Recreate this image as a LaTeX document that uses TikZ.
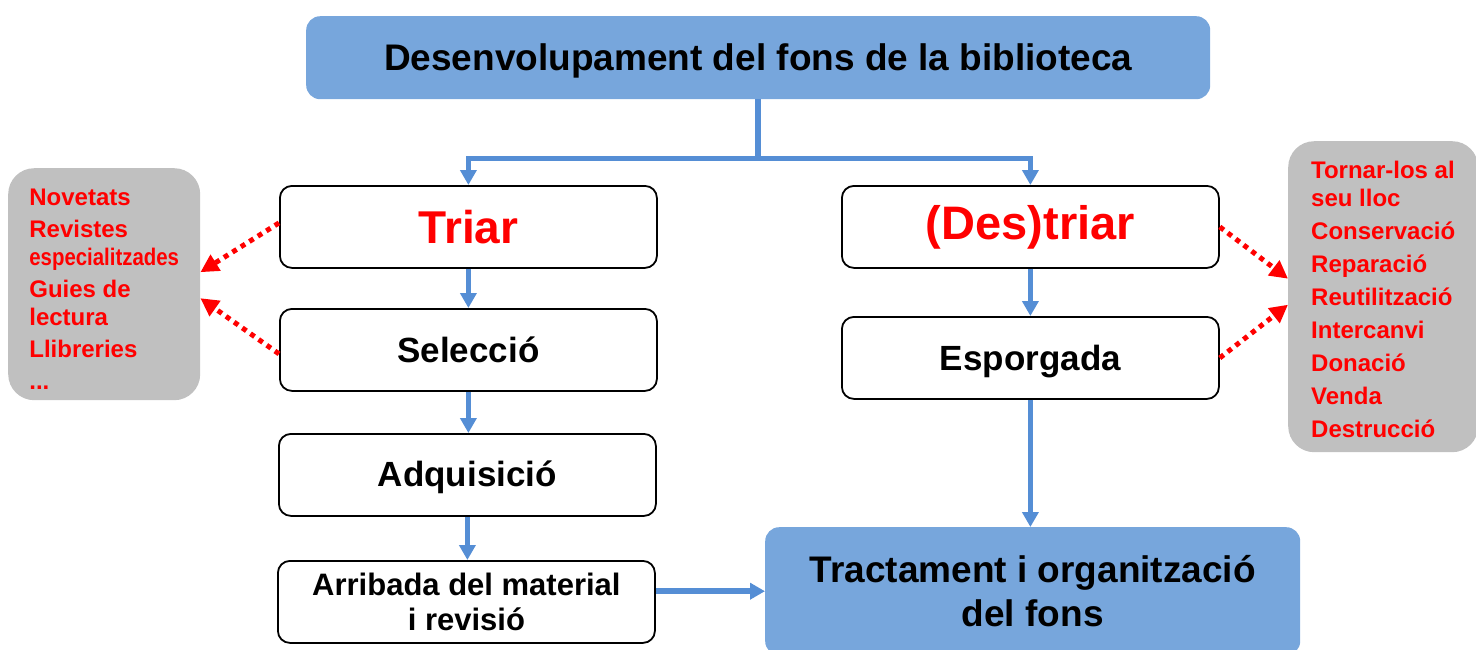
\documentclass[tikz,border=0pt]{standalone}
\usepackage{fontspec}
\setmainfont{Liberation Sans}
\usepackage{graphicx}
\usetikzlibrary{arrows.meta}
\definecolor{boxblue}{RGB}{119,166,220}
\definecolor{lineblue}{RGB}{85,142,213}
\definecolor{panelgray}{RGB}{192,192,192}

\begin{document}
\begin{tikzpicture}[x=1pt,y=-1pt,
    stepbox/.style={draw=black,line width=1.8pt,rounded corners=12pt,fill=white,anchor=north west,inner sep=0,minimum width=377pt,minimum height=82pt,font=\fontsize{35}{40}\selectfont\bfseries,align=center},
    bluebox/.style={fill=boxblue,rounded corners=14pt,anchor=north west,inner sep=0,align=center},
    graybox/.style={fill=panelgray,rounded corners=26pt,anchor=north west,inner sep=0,align=left,text=red,font=\fontsize{24}{28}\selectfont\bfseries},
    flow/.style={draw=lineblue,line width=5.5pt,-{Triangle[width=16pt,length=15pt]}},
    hint/.style={draw=red,line width=5pt,dash pattern=on 5pt off 5pt,-{Triangle[width=18pt,length=18pt]}}]
        \useasboundingbox (0,0) rectangle (1476,649);
        \node[bluebox,minimum width=904pt,minimum height=83pt,font=\fontsize{37}{42}\selectfont\bfseries,text depth=2pt] (title) at (306,16) {Desenvolupament del fons de la biblioteca};
        % left column
        \node[stepbox,font=\fontsize{46}{50}\selectfont\bfseries,text=red] (triar) at (279,185) {Triar};
        \node[stepbox] (seleccio) at (279,308) {Selecció};
        \node[stepbox,text depth=2pt] (adquisicio) at (278,433) {Adquisició};
        \node[stepbox,font=\fontsize{31}{35}\selectfont\bfseries] (arribada) at (277,560) {Arribada del material\\i revisió};
        % right column
        \node[stepbox,font=\fontsize{47}{50}\selectfont\bfseries,text=red] (destriar) at (841,185) {(Des)triar};
        \node[stepbox] (esporgada) at (841,316) {\rule{0pt}{32pt}Esporgada};
        \node[bluebox,minimum width=535pt,minimum height=128pt,font=\fontsize{37}{44}\selectfont\bfseries] (tractament) at (765,527) {Tractament i organització\\del fons};
        % side panels
        \node[graybox,minimum width=192pt,minimum height=232pt] (fonts) at (8,168) {\rule{0pt}{27pt}Novetats\\[4pt]Revistes\\\scalebox{0.85}[1]{especialitzades}\\[4pt]Guies de\\lectura\\[4pt]Llibreries\\[4pt]...};
        \node[graybox,minimum width=190pt,minimum height=311pt] (destins) at (1288,141) {\rule{0pt}{22pt}Tornar-los al\\seu lloc\\[5pt]Conservació\\[5pt]Reparació\\[5pt]Reutilització\\[5pt]Intercanvi\\[5pt]Donació\\[5pt]Venda\\[5pt]Destrucció};

        \coordinate (split) at ([yshift=-59pt]title.south);
        \draw[flow] (title.south) -- (split) -| (triar.north);
        \draw[flow] (split) -| (destriar.north);
        \draw[flow] (triar) -- (seleccio);
        \draw[flow] (seleccio.south) -- (seleccio.south |- adquisicio.north);
        \draw[flow] (adquisicio.south) -- (adquisicio.south |- arribada.north);
        \draw[flow] (destriar) -- (esporgada);
        \draw[flow] (esporgada.south) -- (esporgada.south |- tractament.north);
        \draw[flow] (arribada.east |- tractament.west) -- (tractament.west);

        \draw[hint] ([yshift=4pt]triar.west) -- ([yshift=12pt]fonts.east);
        \draw[hint] ([yshift=-4pt]seleccio.west) -- ([yshift=-14pt]fonts.east);
        \draw[hint] (destriar.east) -- ([yshift=18pt]destins.west);
        \draw[hint] (esporgada.east) -- ([yshift=-8pt]destins.west);
    \end{tikzpicture}
\end{document}
